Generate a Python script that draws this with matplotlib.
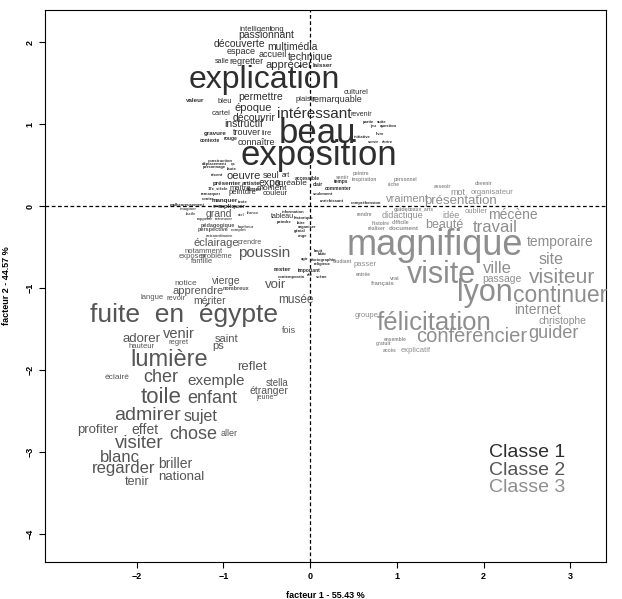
# -*- coding: utf-8 -*-
"""Nuage de mots sur le plan factoriel (facteurs 1 et 2)"""
import matplotlib
matplotlib.use('Agg')
import matplotlib.pyplot as plt

plt.rcParams['font.family'] = ['Liberation Sans', 'DejaVu Sans']

# (mot, facteur 1, facteur 2, taille)
classe1 = [
    ('intelligent', -0.63, 2.16, 5.5), ('long', -0.38, 2.16, 5.5),
    ('passionnant', -0.51, 2.09, 7.5), ('découverte', -0.81, 1.98, 7.5),
    ('multimédia', -0.20, 1.94, 7.5), ('espace', -0.80, 1.88, 6.5),
    ('accueil', -0.43, 1.85, 6.5), ('technique', 0.01, 1.82, 7.5),
    ('salle', -1.01, 1.76, 5), ('regretter', -0.73, 1.77, 6.5),
    ('apprécier', -0.25, 1.72, 8), ('laisser', 0.14, 1.71, 4.5),
    ('explication', -0.53, 1.54, 23), ('culturel', 0.53, 1.38, 5.5),
    ('valeur', -1.33, 1.29, 4.5), ('bleu', -0.98, 1.27, 5.5),
    ('permettre', -0.57, 1.33, 7.5), ('plaisir', -0.05, 1.30, 5.5),
    ('remarquable', 0.31, 1.30, 6.5), ('époque', -0.66, 1.20, 8),
    ('intéressant', 0.05, 1.12, 11), ('revenir', 0.59, 1.12, 5),
    ('cartel', -1.03, 1.13, 5.5), ('découvrir', -0.65, 1.07, 7.5),
    ('instructif', -0.77, 1.00, 7.5), ('gravure', -1.10, 0.89, 4.5),
    ('trouver', -0.73, 0.90, 6.5), ('lire', -0.50, 0.89, 5.5),
    ('contexte', -1.16, 0.80, 3.5), ('rouge', -0.92, 0.83, 3.5),
    ('connaître', -0.62, 0.78, 6.5), ('beau', 0.08, 0.89, 25),
    ('exposition', 0.10, 0.62, 25), ('partie', 0.67, 1.02, 3),
    ('suite', 0.83, 1.02, 3), ('jeu', 0.72, 0.98, 3),
    ('question', 0.90, 0.98, 3), ('livre', 0.81, 0.88, 3),
    ('initiative', 0.60, 0.84, 3), ('servir', 0.73, 0.78, 3),
    ('écrire', 0.89, 0.78, 3), ('temps', 0.36, 0.30, 3.5),
    ('accessible', -0.03, 0.34, 3.5), ('clair', 0.09, 0.26, 3.5),
    ('commenter', 0.32, 0.22, 3.5), ('seulement', 0.15, 0.15, 3),
    ('enrichissant', 0.25, 0.06, 3), ('compréhension', 0.65, 0.04, 3),
    ('construction', -1.04, 0.55, 3), ('déplacement', -1.10, 0.51, 3),
    ('ça', -0.89, 0.51, 3), ('personnage', -1.10, 0.48, 3),
    ('faute', -0.90, 0.45, 3), ('récent', -1.07, 0.38, 3),
    ('oeuvre', -0.77, 0.37, 8), ('seul', -0.45, 0.37, 6.5),
    ('art', -0.28, 0.37, 5), ('présenter', -0.96, 0.28, 4.5),
    ('artiste', -0.68, 0.27, 4.5), ('expo', -0.46, 0.28, 7.5),
    ('agréable', -0.22, 0.28, 6), ('17e_siècle', -1.06, 0.21, 3),
    ('maître', -0.81, 0.21, 5.5), ('aimer', -0.65, 0.20, 4.5),
    ('moment', -0.44, 0.21, 6), ('peinture', -0.78, 0.16, 5.5),
    ('couleur', -0.40, 0.15, 5.5), ('remarquer', -1.15, 0.15, 3),
    ('contre', -1.18, 0.09, 3), ('manquer', -0.98, 0.07, 4.5),
    ('texte', -0.78, 0.05, 3), ('malheureusement', -1.42, 0.01, 3),
    ('gros', -1.07, 0.00, 3), ('expliquer', -0.90, 0.00, 4.5),
    ('information', -0.20, -0.07, 3), ('tableau', -0.32, -0.13, 5),
    ('historique', -0.08, -0.15, 3), ('peindre', -0.30, -0.20, 3),
    ('faire', -0.10, -0.21, 3), ('organiser', -0.03, -0.26, 3),
    ('génial', -0.12, -0.30, 3), ('ange', -0.09, -0.37, 3),
    ('rester', -0.32, -0.77, 4.5), ('important', -0.01, -0.78, 3.5),
    ('contemporain', -0.21, -0.87, 3), ('été', 0.00, -0.84, 3),
    ('scène', 0.13, -0.87, 3), ('bruit', 0.09, -0.55, 3),
    ('bâtir', 0.14, -0.59, 3), ('agir', -0.06, -0.65, 3),
    ('photographie', 0.15, -0.66, 3), ('religieux', 0.14, -0.71, 3),
]

classe2 = [
    ('imaginer', -1.41, -0.04, 3), ('facile', -1.37, -0.10, 3),
    ('grand', -1.05, -0.10, 7.5), ('ciel', -0.80, -0.11, 3),
    ('france', -0.66, -0.09, 3), ('rappeler', -1.22, -0.16, 3),
    ('retrouver', -0.99, -0.16, 3), ('pédagogique', -1.07, -0.24, 4),
    ('bonheur', -0.74, -0.26, 3), ('perspective', -1.12, -0.28, 4),
    ('complet', -0.82, -0.29, 3), ('extraordinaire', -1.05, -0.37, 3),
    ('éclairage', -1.08, -0.45, 8), ('prendre', -0.70, -0.45, 5),
    ('poussin', -0.53, -0.57, 11), ('notamment', -1.23, -0.55, 5.5),
    ('exposer', -1.36, -0.61, 5.5), ('problème', -1.08, -0.61, 5.5),
    ('famille', -1.25, -0.68, 5.5), ('notice', -1.44, -0.95, 6),
    ('vierge', -0.97, -0.91, 7.5), ('voir', -0.40, -0.96, 9.5),
    ('apprendre', -1.29, -1.04, 8), ('nombreux', -0.85, -1.01, 4),
    ('langue', -1.82, -1.11, 5.5), ('revoir', -1.55, -1.13, 5.5),
    ('mériter', -1.16, -1.16, 7.5), ('musée', -0.16, -1.15, 8.5),
    ('fuite  en  égypte', -1.46, -1.33, 19), ('fois', -0.24, -1.52, 6.5),
    ('venir', -1.51, -1.56, 10.5), ('adorer', -1.95, -1.62, 9.5),
    ('regret', -1.52, -1.66, 5.5), ('saint', -0.96, -1.62, 8),
    ('hauteur', -1.94, -1.71, 5.5), ('ps', -1.06, -1.71, 8),
    ('lumière', -1.63, -1.88, 17), ('reflet', -0.67, -1.96, 9.5),
    ('éclairé', -2.23, -2.09, 6), ('cher', -1.72, -2.09, 13),
    ('exemple', -1.08, -2.13, 11), ('stella', -0.38, -2.16, 7),
    ('étranger', -0.48, -2.26, 7.5), ('jeune', -0.52, -2.33, 5),
    ('toile', -1.72, -2.34, 16), ('enfant', -1.13, -2.35, 13),
    ('admirer', -1.87, -2.56, 14), ('sujet', -1.26, -2.57, 11.5),
    ('profiter', -2.45, -2.73, 9.5), ('effet', -1.91, -2.73, 10),
    ('chose', -1.35, -2.79, 13), ('aller', -0.93, -2.78, 6.5),
    ('visiter', -1.97, -2.89, 13.5), ('blanc', -2.19, -3.07, 12),
    ('briller', -1.56, -3.15, 10), ('regarder', -2.15, -3.20, 12),
    ('national', -1.49, -3.30, 9.5), ('tenir', -2.00, -3.37, 9),
]

classe3 = [
    ('sentir', 0.37, 0.35, 3.5), ('peintre', 0.59, 0.40, 3.5),
    ('inspiration', 0.62, 0.33, 3.5), ('personnel', 1.10, 0.32, 3.5),
    ('riche', 0.96, 0.26, 3.5), ('asseoir', 1.53, 0.24, 3.5),
    ('devenir', 2.00, 0.28, 3.5), ('mot', 1.70, 0.17, 6.5),
    ('organisateur', 2.10, 0.16, 5.5), ('vraiment', 1.12, 0.09, 8),
    ('présentation', 1.73, 0.06, 9.5), ('guide', 1.05, -0.04, 4),
    ('beaux_arts', 1.28, -0.04, 3.5), ('oublier', 1.91, -0.06, 5.5),
    ('rendre', 0.63, -0.10, 3.5), ('didactique', 1.07, -0.11, 6.5),
    ('idée', 1.63, -0.12, 6.5), ('mécène', 2.34, -0.11, 10),
    ('histoire', 0.81, -0.21, 3.5), ('difficile', 1.04, -0.20, 3.5),
    ('réaliser', 0.77, -0.27, 3.5), ('document', 1.08, -0.27, 4.5),
    ('beauté', 1.55, -0.23, 9), ('travail', 2.13, -0.26, 12),
    ('magnifique', 1.44, -0.48, 26), ('temporaire', 2.88, -0.44, 10),
    ('site', 2.78, -0.65, 11.5), ('étudiant', 0.37, -0.68, 3.5),
    ('passer', 0.63, -0.71, 5.5), ('entrée', 0.61, -0.84, 3.5),
    ('vrai', 0.98, -0.88, 4), ('français', 0.84, -0.94, 4.5),
    ('visite', 1.52, -0.84, 22), ('ville', 2.16, -0.76, 12),
    ('passage', 2.21, -0.89, 7.5), ('visiteur', 2.90, -0.87, 15),
    ('lyon', 2.01, -1.06, 22), ('continuer', 2.88, -1.09, 16.5),
    ('internet', 2.62, -1.27, 10), ('christophe', 2.91, -1.40, 7.5),
    ('groupe', 0.65, -1.34, 5.5), ('félicitation', 1.43, -1.43, 18.5),
    ('guider', 2.81, -1.55, 13), ('conférencier', 1.86, -1.59, 14.5),
    ('ensemble', 0.98, -1.63, 3.5), ('gratuit', 0.84, -1.68, 3.5),
    ('accès', 0.92, -1.76, 3.5), ('explicatif', 1.22, -1.76, 5.5),
]

noms_classes = ['Classe 1', 'Classe 2', 'Classe 3']
couleurs = ['#2e2e2e', '#555555', '#8e8e8e']

fig = plt.figure(figsize=(6.22, 5.99), dpi=100)
ax = fig.add_axes([0.072, 0.062, 0.902, 0.921])

for mots, coul in zip([classe1, classe2, classe3], couleurs):
    for mot, f1, f2, taille in mots:
        # les petits mots paraissent gras dans l'original
        poids = 'bold' if taille < 5 else 'normal'
        ax.text(f1, f2, mot, fontsize=taille, color=coul, fontweight=poids,
                ha='center', va='center')

ax.axhline(0, color='black', linestyle='--', linewidth=0.9, dashes=(3, 2))
ax.axvline(0, color='black', linestyle='--', linewidth=0.9, dashes=(3, 2))

ax.set_xlim(-3.06, 3.41)
ax.set_ylim(-4.34, 2.39)
ax.set_xticks([-2, -1, 0, 1, 2, 3])
ax.set_yticks([-4, -3, -2, -1, 0, 1, 2])
for lab in ax.get_xticklabels() + ax.get_yticklabels():
    lab.set_fontweight('bold')
ax.tick_params(labelsize=6.5, length=4, width=0.8)
plt.setp(ax.get_yticklabels(), rotation=90, va='center')
for s in ax.spines.values():
    s.set_linewidth(0.8)

ax.set_xlabel('facteur 1 - 55.43 %', fontsize=6.5, fontweight='bold', labelpad=7)
ax.set_ylabel('facteur 2 - 44.57 %', fontsize=6.5, fontweight='bold', labelpad=10)

# légende des classes
for i, (nom, coul) in enumerate(zip(noms_classes, couleurs)):
    ax.text(2.50, -3.01 - 0.21 * i, nom, fontsize=14, color=coul,
            ha='center', va='center')

fig.savefig('out.png', dpi=100)
